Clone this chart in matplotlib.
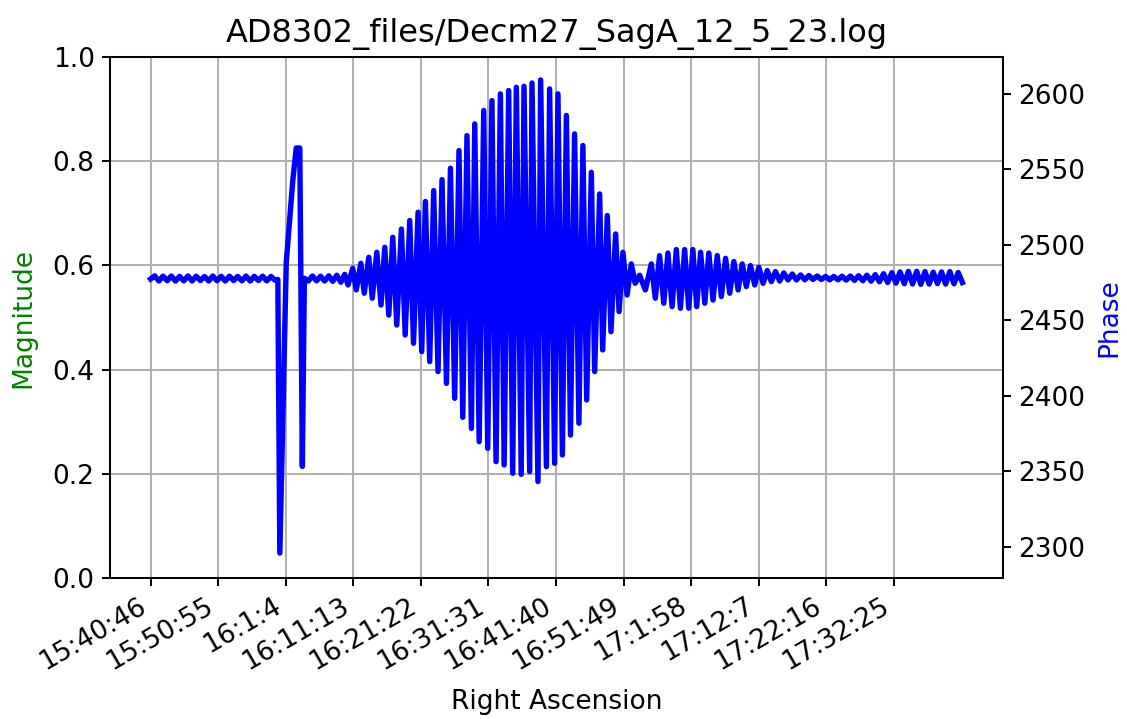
import matplotlib
matplotlib.use("Agg")
import matplotlib.pyplot as plt
import numpy as np

title = "AD8302_files/Decm27_SagA_12_5_23.log"
tick_step_sec = 609
tick_labels = ["15:40:46", "15:50:55", "16:1:4", "16:11:13", "16:21:22", "16:31:31",
               "16:41:40", "16:51:49", "17:1:58", "17:12:7", "17:22:16", "17:32:25"]

# quiet start (seconds since 15:40:46, phase)
quiet_t = [0, 37, 75, 112, 150, 187, 224, 262, 299, 337, 374, 411, 449, 486, 524, 561,
           598, 636, 673, 711, 748, 785, 823, 860, 898, 935, 972, 1010, 1047, 1085, 1122]
quiet_p = [2477.3, 2479.4, 2476.0, 2479.2, 2476.2, 2479.3, 2476.0, 2479.1, 2476.1, 2479.4,
           2476.0, 2479.2, 2476.3, 2479.0, 2476.0, 2479.3, 2476.2, 2479.1, 2476.0, 2479.2,
           2476.3, 2479.0, 2476.1, 2479.3, 2476.0, 2479.1, 2476.3, 2479.2, 2476.1, 2479.0, 2476.5]

# glitch
glitch_t = [1147, 1165, 1223, 1282, 1313, 1345, 1368, 1386]
glitch_p = [2477.0, 2296.0, 2488.4, 2542.6, 2564.0, 2564.0, 2353.3, 2477.8]

# short quiet stretch before fringes
pre_t = [1422, 1459, 1496, 1532, 1569, 1606, 1642, 1679, 1715]
pre_p = [2476.0, 2479.3, 2476.1, 2479.2, 2476.0, 2479.4, 2475.8, 2479.8, 2475.2]

# fringe maxima
peak_t = [1750, 1822, 1895, 1967, 2039, 2111, 2183, 2261, 2336, 2411, 2477, 2552, 2627,
          2703, 2780, 2852, 2922, 3003, 3077, 3153, 3228, 3297, 3366, 3438, 3516, 3597,
          3672, 3748, 3822, 3897, 3973, 4048, 4117, 4192, 4258, 4333, 4408,
          4514, 4588, 4663, 4739, 4814, 4888, 4958, 5032, 5108, 5183, 5258, 5333, 5408,
          5483, 5559, 5633, 5708, 5784]
peak_p = [2480.4, 2484.4, 2487.7, 2491.7, 2495.0, 2498.3, 2504.9, 2510.4, 2516.0, 2521.5,
          2528.6, 2535.8, 2543.1, 2550.6, 2562.3, 2572.2, 2579.9, 2588.8, 2595.4, 2599.8,
          2602.0, 2604.2, 2604.8, 2607.0, 2609.0, 2603.1, 2599.8, 2585.5, 2573.3, 2565.6,
          2547.9, 2533.6, 2519.3, 2507.1, 2495.0, 2487.3, 2479.8,
          2487.3, 2492.8, 2494.5, 2496.8, 2496.8, 2496.8, 2495.0, 2494.5, 2492.8, 2491.0,
          2488.9, 2487.3, 2486.2, 2485.1, 2482.9, 2482.2, 2481.3, 2480.6]

# fringe minima
trough_t = [1780, 1854, 1926, 1998, 2077, 2147, 2219, 2295, 2370, 2444, 2516, 2591, 2667,
            2741, 2814, 2892, 2962, 3039, 3114, 3187, 3264, 3341, 3417, 3492, 3568, 3642,
            3712, 3785, 3861, 3931, 4003, 4075, 4150, 4223, 4295, 4368,
            4460, 4550, 4626, 4701, 4776, 4851, 4923, 4996, 5070, 5145, 5221, 5296, 5370,
            5446, 5521, 5596, 5671, 5746, 5822]
trough_p = [2473.4, 2470.1, 2467.9, 2464.6, 2460.1, 2453.5, 2446.9, 2440.3, 2434.8, 2429.3,
            2422.7, 2416.1, 2408.3, 2398.4, 2385.8, 2378.5, 2369.7, 2365.3, 2356.5, 2354.3,
            2348.8, 2348.1, 2349.9, 2343.3, 2353.2, 2355.4, 2360.9, 2374.1, 2381.9, 2397.3,
            2416.1, 2430.4, 2442.5, 2455.8, 2466.7, 2474.5,
            2470.1, 2464.6, 2461.3, 2459.1, 2458.0, 2458.0, 2459.1, 2461.3, 2463.4, 2465.7,
            2467.9, 2470.1, 2472.3, 2473.4, 2474.5, 2475.6, 2476.0, 2476.7, 2476.7]

# quiet tail
tail_t = [5859, 5897, 5934, 5971, 6009, 6046, 6084, 6121, 6158, 6196, 6233, 6270, 6308,
          6345, 6383, 6420, 6457, 6495, 6532, 6570, 6607, 6644, 6682, 6719, 6756, 6794,
          6831, 6869, 6906, 6943, 6981, 7018, 7055, 7093, 7130, 7167, 7205, 7242, 7280, 7318]
tail_p = [2480.0, 2476.8, 2479.6, 2477.0, 2479.3, 2477.0, 2479.0, 2476.8, 2479.0, 2476.8,
          2479.2, 2476.6, 2479.3, 2476.4, 2479.5, 2476.2, 2479.8, 2475.9, 2480.2, 2475.5,
          2480.8, 2475.0, 2481.5, 2474.6, 2482.0, 2474.2, 2482.3, 2474.0, 2482.4, 2473.8,
          2482.2, 2474.0, 2481.8, 2474.3, 2482.0, 2474.0, 2482.2, 2474.2, 2481.6, 2475.0]

fringe_t = np.array(peak_t + trough_t)
fringe_p = np.array(peak_p + trough_p)
order = np.argsort(fringe_t)
t_all = np.concatenate([quiet_t, glitch_t, pre_t, fringe_t[order], tail_t])
p_all = np.concatenate([quiet_p, glitch_p, pre_p, fringe_p[order], tail_p])

plt.rcParams.update({
    "font.size": 19,
    "axes.linewidth": 1.45,
    "xtick.major.size": 6.0, "ytick.major.size": 6.0,
    "xtick.major.width": 1.45, "ytick.major.width": 1.45,
    "xtick.major.pad": 5.0, "ytick.major.pad": 5.0,
    "xtick.labelsize": 19, "ytick.labelsize": 19,
    "grid.linewidth": 1.45,
    "axes.titlepad": 11,
})

fig = plt.figure(figsize=(11.27, 7.19), dpi=100)
ax = fig.add_axes([110 / 1127, 1 - 578 / 719, (1003 - 110) / 1127, (578 - 57) / 719])
ax.set_ylim(0, 1)
ax.set_ylabel("Magnitude", color="g", labelpad=12)
ax.set_xlabel("Right Ascension", labelpad=10)
ax.set_title(title, fontsize=23)
ax.grid(True)

ax2 = ax.twinx()
ax2.plot(t_all, p_all, color="b", linewidth=3.9)
ax2.set_ylabel("Phase", color="b", labelpad=8)
ax2.set_ylim(2279.5, 2624.2)

ticks = np.arange(len(tick_labels)) * tick_step_sec
ax.set_xticks(ticks)
ax.set_xticklabels(tick_labels, rotation=30, ha="right")
span = t_all.max() - t_all.min()
ax.set_xlim(t_all.min() - 0.05 * span, t_all.max() + 0.05 * span)

fig.savefig("out.png", dpi=100)
